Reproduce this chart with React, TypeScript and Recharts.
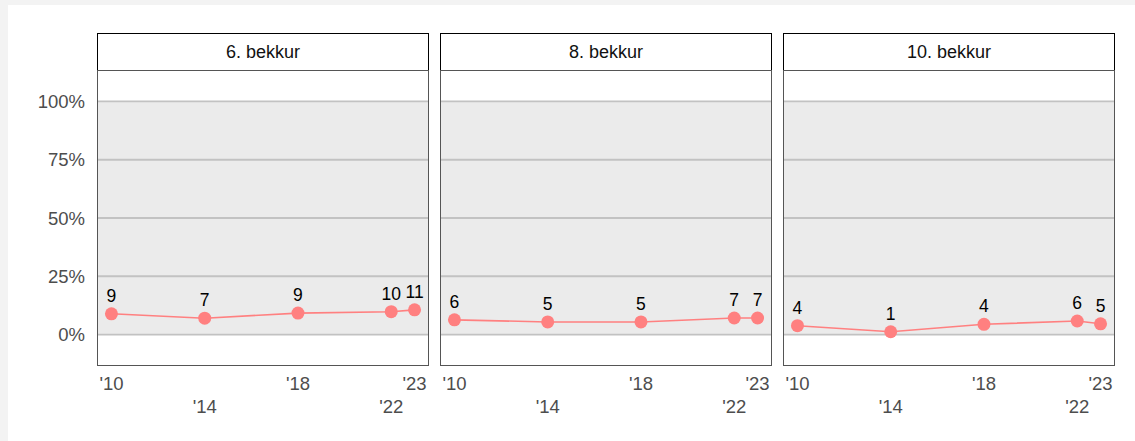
import React from "react";
import {
  LabelList,
  Line,
  LineChart,
  ReferenceArea,
  ReferenceLine,
  XAxis,
  YAxis,
} from "recharts";

const years = [2010, 2014, 2018, 2022, 2023];
const yearLabels = ["'10", "'14", "'18", "'22", "'23"];
const grades = ["6. bekkur", "8. bekkur", "10. bekkur"];
const grade6 = [8.9, 7.0, 9.2, 9.8, 10.6];
const grade8 = [6.3, 5.4, 5.4, 7.1, 7.1];
const grade10 = [3.8, 1.2, 4.4, 5.8, 4.6];
const yTicks = [0, 25, 50, 75, 100];

const seriesByGrade = [grade6, grade8, grade10];

const FONT = "'Liberation Sans', Arial, sans-serif";
const LINE_COLOR = "#ff8080";
const PANEL_W = 332;
const PANEL_TOP = 70;
const PANEL_H = 296;
const AXIS_H = 75;
const Y_AXIS_W = 89;
const panelLefts = [97, 440, 783];

function XTick(props: any) {
  const { x, y, payload } = props;
  const i = years.indexOf(payload.value);
  const dy = i % 2 === 0 ? 17 : 40;
  return (
    <text
      x={x}
      y={y + dy - 8}
      textAnchor="middle"
      dominantBaseline="central"
      fontSize={18.5}
      fill="#4d4d4d"
      fontFamily={FONT}
    >
      {yearLabels[i]}
    </text>
  );
}

function PointLabel(props: any) {
  const { x, y, value } = props;
  return (
    <text
      x={x}
      y={y - 18}
      textAnchor="middle"
      dominantBaseline="central"
      fontSize={17.5}
      fill="#000"
      fontFamily={FONT}
    >
      {Math.round(value)}
    </text>
  );
}

function Panel({ idx }: { idx: number }) {
  const first = idx === 0;
  const data = years.map((year, i) => ({ year, value: seriesByGrade[idx][i] }));
  const left = first ? panelLefts[0] - Y_AXIS_W : panelLefts[idx];
  const width = first ? PANEL_W + Y_AXIS_W : PANEL_W;
  return (
    <div style={{ position: "absolute", left, top: PANEL_TOP }}>
      <LineChart
        width={width}
        height={PANEL_H + AXIS_H}
        data={data}
        margin={{ top: 0, right: 0, bottom: 0, left: 0 }}
      >
        <XAxis
          dataKey="year"
          type="number"
          domain={[2009.38, 2023.62]}
          ticks={years}
          interval={0}
          allowDataOverflow
          axisLine={false}
          tickLine={false}
          height={AXIS_H}
          tick={<XTick />}
        />
        <YAxis
          type="number"
          domain={[-13.5, 113.5]}
          ticks={yTicks}
          allowDataOverflow
          hide={!first}
          width={Y_AXIS_W}
          axisLine={false}
          tickLine={false}
          tickMargin={6}
          tickFormatter={(v) => `${v}%`}
          tick={{ fontSize: 18.5, fill: "#4d4d4d", fontFamily: FONT }}
        />
        <ReferenceArea y1={0} y2={100} fill="#ebebeb" fillOpacity={1} stroke="none" />
        {yTicks.map((t) => (
          <ReferenceLine key={t} y={t} stroke="#c2c2c2" strokeWidth={1.8} />
        ))}
        <Line
          dataKey="value"
          stroke={LINE_COLOR}
          strokeWidth={1.6}
          dot={{ r: 6.5, fill: LINE_COLOR, stroke: LINE_COLOR, strokeWidth: 0 }}
          activeDot={false}
          isAnimationActive={false}
        >
          <LabelList dataKey="value" content={<PointLabel />} />
        </Line>
      </LineChart>
      <div
        style={{
          position: "absolute",
          left: first ? Y_AXIS_W : 0,
          top: 0,
          width: PANEL_W,
          height: PANEL_H,
          boxSizing: "border-box",
          border: "1px solid #555",
          pointerEvents: "none",
        }}
      />
    </div>
  );
}

export default function App() {
  return (
    <div
      style={{
        position: "absolute",
        left: 0,
        top: 0,
        width: 1135,
        height: 441,
        background: "#f3f3f3",
        fontFamily: FONT,
      }}
    >
      <div
        style={{
          position: "absolute",
          left: 8,
          top: 5,
          right: 0,
          bottom: 0,
          background: "#fff",
        }}
      />
      {grades.map((g, i) => (
        <div
          key={g}
          style={{
            position: "absolute",
            left: panelLefts[i],
            top: 33,
            width: PANEL_W,
            height: 38,
            boxSizing: "border-box",
            border: "1.5px solid #000",
            background: "#fff",
            display: "flex",
            alignItems: "center",
            justifyContent: "center",
            fontSize: 18,
            color: "#111",
          }}
        >
          {g}
        </div>
      ))}
      {grades.map((g, i) => (
        <Panel key={g} idx={i} />
      ))}
    </div>
  );
}
